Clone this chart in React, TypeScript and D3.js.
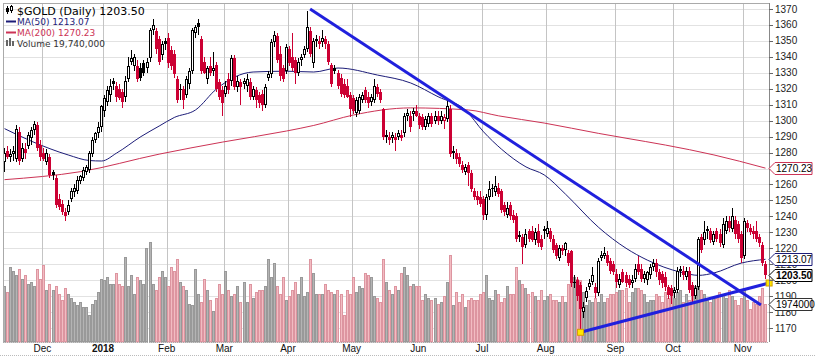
import React from "react";
import * as d3 from "d3";

// ---------- DATA ----------
const opens = [1274,1281,1277,1279,1276,1293,1276,1282,1284,1289,1294,1297,1285,1280,1274,1277,1268,1264,1251,1248,1243,1243,1251,1255,1256,1262,1264,1268,1269,1279,1288,1292,1296,1306,1312,1316,1325,1322,1320,1318,1315,1326,1337,1334,1334,1333,1336,1333,1339,1357,1356,1351,1341,1350,1352,1344,1342,1326,1320,1320,1316,1323,1331,1355,1361,1351,1337,1326,1334,1331,1335,1324,1319,1317,1326,1325,1339,1321,1324,1323,1322,1324,1315,1319,1316,1317,1310,1327,1329,1349,1353,1342,1333,1331,1345,1340,1338,1330,1338,1341,1345,1356,1336,1351,1350,1349,1351,1348,1335,1333,1330,1327,1323,1322,1316,1314,1305,1306,1313,1319,1315,1312,1313,1321,1318,1307,1291,1290,1289,1290,1290,1291,1292,1303,1303,1304,1306,1303,1302,1296,1298,1303,1300,1303,1300,1300,1301,1307,1281,1280,1277,1272,1268,1272,1267,1256,1253,1252,1251,1241,1252,1258,1255,1258,1256,1247,1241,1247,1241,1240,1228,1227,1222,1231,1231,1225,1231,1226,1232,1229,1231,1226,1222,1214,1220,1219,1217,1218,1199,1200,1197,1180,1189,1196,1199,1196,1192,1214,1215,1216,1212,1210,1204,1197,1205,1203,1201,1198,1201,1210,1207,1201,1200,1203,1208,1211,1205,1204,1202,1196,1195,1192,1194,1207,1206,1202,1206,1197,1190,1196,1227,1225,1232,1231,1224,1231,1229,1222,1231,1237,1232,1238,1235,1229,1215,1236,1233,1231,1231,1227,1222,1210];
const highs = [1283,1284,1282,1284,1297,1296,1286,1286,1293,1296,1300,1299,1288,1283,1282,1279,1269,1266,1254,1250,1245,1250,1258,1260,1265,1266,1271,1272,1281,1290,1293,1299,1310,1316,1322,1326,1327,1324,1323,1320,1328,1340,1344,1342,1338,1336,1338,1339,1358,1364,1358,1353,1350,1352,1355,1347,1344,1328,1323,1322,1328,1333,1358,1360,1364,1353,1340,1334,1340,1343,1337,1326,1322,1325,1330,1341,1341,1328,1326,1327,1329,1327,1322,1321,1318,1319,1323,1331,1351,1356,1355,1347,1335,1348,1347,1355,1340,1339,1342,1347,1369,1359,1352,1354,1353,1357,1353,1350,1336,1335,1332,1329,1326,1326,1318,1316,1315,1317,1318,1321,1318,1317,1326,1323,1320,1308,1294,1293,1293,1292,1294,1294,1305,1307,1306,1308,1310,1305,1304,1303,1305,1305,1306,1306,1306,1304,1313,1310,1284,1282,1280,1275,1273,1274,1269,1258,1256,1256,1253,1254,1262,1260,1265,1261,1257,1249,1249,1249,1244,1242,1231,1229,1232,1232,1234,1233,1235,1228,1234,1237,1233,1228,1223,1222,1222,1224,1219,1219,1203,1202,1199,1186,1196,1201,1208,1198,1214,1218,1221,1218,1214,1212,1207,1204,1207,1205,1203,1203,1210,1215,1210,1206,1206,1210,1213,1213,1207,1206,1205,1197,1197,1196,1208,1209,1209,1208,1208,1199,1197,1227,1229,1237,1234,1233,1231,1233,1232,1239,1240,1240,1245,1240,1237,1231,1239,1238,1235,1234,1237,1229,1224,1212];
const lows = [1268,1276,1274,1275,1274,1272,1274,1276,1282,1285,1291,1281,1275,1275,1272,1264,1263,1245,1244,1241,1237,1241,1249,1252,1254,1260,1262,1266,1267,1277,1286,1289,1293,1302,1309,1312,1319,1312,1313,1308,1312,1324,1335,1331,1324,1325,1328,1330,1337,1354,1342,1335,1338,1344,1333,1332,1327,1311,1313,1307,1314,1320,1329,1352,1354,1329,1329,1323,1328,1328,1318,1313,1303,1315,1317,1322,1319,1318,1310,1320,1318,1313,1313,1308,1308,1306,1308,1325,1327,1346,1336,1325,1324,1329,1334,1331,1323,1328,1334,1339,1343,1340,1333,1346,1345,1346,1345,1335,1321,1329,1320,1315,1314,1314,1302,1304,1302,1304,1311,1311,1308,1309,1311,1315,1311,1288,1286,1285,1286,1281,1288,1287,1290,1300,1293,1300,1302,1295,1294,1294,1296,1296,1298,1297,1298,1295,1299,1277,1276,1273,1271,1267,1266,1259,1255,1250,1247,1246,1238,1238,1250,1252,1253,1252,1242,1240,1239,1238,1236,1224,1224,1210,1220,1224,1224,1222,1221,1219,1226,1227,1224,1217,1213,1212,1216,1215,1209,1196,1195,1187,1167,1176,1186,1194,1197,1189,1190,1212,1213,1209,1204,1203,1195,1195,1198,1196,1195,1195,1199,1203,1199,1198,1197,1201,1206,1202,1197,1195,1193,1188,1185,1189,1192,1202,1200,1200,1192,1186,1188,1194,1217,1222,1226,1223,1222,1224,1221,1220,1229,1230,1230,1226,1223,1211,1213,1230,1228,1226,1224,1221,1209,1201];
const closes = [1280,1277,1279,1281,1295,1275,1283,1280,1291,1294,1298,1283,1277,1276,1280,1266,1266,1247,1246,1243,1240,1247,1256,1258,1263,1265,1269,1271,1280,1288,1292,1296,1309,1314,1319,1322,1323,1315,1314,1312,1325,1334,1339,1340,1326,1327,1330,1337,1357,1360,1345,1337,1348,1348,1336,1334,1329,1313,1319,1313,1326,1331,1357,1359,1359,1331,1330,1333,1330,1333,1320,1315,1311,1322,1319,1339,1321,1325,1321,1325,1326,1315,1320,1313,1311,1310,1321,1329,1349,1354,1338,1328,1326,1346,1336,1333,1330,1337,1340,1345,1359,1342,1350,1350,1348,1352,1348,1337,1323,1331,1322,1317,1316,1315,1307,1306,1313,1315,1316,1313,1311,1315,1322,1317,1313,1290,1290,1288,1291,1288,1292,1289,1303,1305,1296,1306,1303,1297,1296,1301,1303,1298,1303,1300,1303,1302,1309,1279,1280,1276,1273,1269,1271,1267,1257,1252,1250,1248,1241,1252,1257,1257,1259,1254,1244,1243,1245,1240,1238,1226,1227,1221,1229,1226,1225,1230,1223,1221,1231,1233,1226,1219,1215,1220,1218,1223,1211,1198,1198,1190,1182,1183,1193,1198,1203,1192,1212,1216,1217,1211,1206,1205,1199,1201,1199,1198,1197,1200,1207,1205,1201,1204,1205,1208,1211,1205,1200,1198,1196,1191,1190,1194,1206,1206,1203,1206,1194,1190,1195,1226,1219,1230,1231,1225,1229,1226,1223,1235,1237,1233,1240,1229,1226,1214,1237,1233,1230,1229,1226,1223,1211,1203.5];
// volume in millions
const volumes = [29,26,39,37,35,38,33,35,30,31,29,38,33,40,27,30,27,29,25,22,28,25,23,21,19,21,18,18,14,20,22,26,33,32,34,30,30,36,30,29,44,29,35,25,34,32,30,49,52,30,27,34,37,34,29,39,37,43,31,29,27,20,19,38,25,21,33,27,22,16,23,30,25,37,27,24,25,29,21,31,21,30,23,26,27,27,29,43,34,41,29,25,34,22,24,27,31,25,34,24,26,43,36,25,25,25,30,27,26,25,27,25,14,27,25,34,26,29,28,36,35,34,24,23,21,43,31,27,25,29,27,36,39,35,29,30,29,29,22,25,23,22,23,20,21,24,31,45,19,26,21,25,18,22,23,22,22,25,26,35,23,22,27,25,21,23,29,25,25,39,32,30,28,25,26,24,22,27,22,24,25,22,22,21,24,21,30,34,34,33,32,26,19,22,21,23,21,25,21,23,25,25,26,27,27,28,21,26,28,28,27,25,21,22,22,25,24,21,26,23,25,23,26,27,21,25,22,24,29,35,27,25,22,21,23,23,26,25,23,27,24,22,19,23,28,22,17,21,20,24,28,19.74];

const monthLabels = ["", "Dec", "2018", "Feb", "Mar", "Apr", "May", "Jun", "Jul", "Aug", "Sep", "Oct", "Nov"];
const monthBarCounts = [13, 20, 21, 19, 21, 21, 22, 21, 21, 23, 19, 23, 8];
const priceTicks = [1170,1180,1190,1200,1210,1220,1230,1240,1250,1260,1270,1280,1290,1300,1310,1320,1330,1340,1350,1360,1370];

// moving averages (bar index, value)
const ma50Idx = [0, 9, 21, 28, 32, 37, 45, 51, 56, 63, 70, 82, 93, 102, 110, 123, 134, 143, 152, 158, 164, 172, 178, 185, 196, 205, 212, 223, 229, 234, 243, 251];
const ma50Val = [1295, 1287, 1278.5, 1275, 1274.7, 1279.7, 1290, 1296.6, 1302, 1306.7, 1320, 1330.5, 1331, 1330.5, 1333, 1328.6, 1323.6, 1315, 1306.7, 1293, 1282, 1271, 1266, 1254, 1233, 1220, 1212.6, 1205, 1203, 1204.5, 1210.7, 1213.07];
const ma200Idx = [0, 25, 51, 72, 93, 102, 115, 134, 153, 163, 178, 196, 205, 218, 234, 251];
const ma200Val = [1263, 1268, 1279, 1286.6, 1293.5, 1297, 1303.5, 1308, 1306.7, 1303, 1298.5, 1292, 1289, 1284.7, 1278.5, 1270.23];

// trendlines (bar index, price)
const trend1 = [[100.8, 1370], [249.5, 1184.4]];
const trend2 = [[190, 1167.3], [252.2, 1198.2]];

const lastClose = 1203.5;
const lastMA50 = 1213.07;
const lastMA200 = 1270.23;
const lastVolume = 19740000;

// ---------- CHART ----------
export default function App() {
  const W = 815, H = 357;
  const left = 3, right = 769, top = 3, bottom = 342;
  const n = closes.length;
  const x = d3.scaleBand<number>().domain(d3.range(n)).range([left, 767]).padding(0);
  const step = x.step();
  const cx = (i: number) => left + (i + 0.5) * step;
  const y = d3.scaleLinear().domain([1170, 1370]).range([328, 9]);
  const vy = d3.scaleLinear().domain([0, 52]).range([bottom, bottom - 100]);

  const red = "#cc0033";
  const lineFont = "DejaVu Sans, Verdana, sans-serif";
  const axisFont = "Liberation Sans, Arial, sans-serif";

  const monthStarts: number[] = [];
  let acc = 0;
  monthBarCounts.forEach((c) => { monthStarts.push(acc); acc += c; });

  const maLine = d3.line<[number, number]>().x((d) => cx(d[0])).y((d) => y(d[1])).curve(d3.curveMonotoneX);
  const ma50Path = maLine(ma50Idx.map((v, k) => [v, ma50Val[k]] as [number, number])) || "";
  const ma200Path = maLine(ma200Idx.map((v, k) => [v, ma200Val[k]] as [number, number])) || "";

  const tag = (yy: number, text: string, stroke: string, color: string, bold = false, key = "") => (
    <g key={key}>
      <polygon points={`${769},${yy} ${775},${yy - 6} ${812},${yy - 6} ${812},${yy + 6} ${775},${yy + 6}`} fill="#fff" stroke={stroke} strokeWidth={1} />
      <text x={776} y={yy + 3.5} fontSize={10} fontFamily={axisFont} fontWeight={bold ? "bold" : "normal"} fill={color}>{text}</text>
    </g>
  );

  return (
    <svg width={W} height={H} style={{ position: "absolute", left: 0, top: 0, background: "#fff" }}>
      <rect x={0} y={0} width={W} height={H} fill="#fff" />
      {priceTicks.map((p) => (
        <line key={"hg" + p} x1={left} x2={right} y1={Math.round(y(p)) + 0.5} y2={Math.round(y(p)) + 0.5} stroke="#e2e2e2" strokeWidth={1} />
      ))}
      {monthStarts.slice(1).map((m, k) => (
        <line key={"vg" + k} x1={Math.round(x(m)!) + 0.5} x2={Math.round(x(m)!) + 0.5} y1={top} y2={bottom} stroke="#c4c4c4" strokeWidth={1} />
      ))}
      {volumes.map((v, i) => {
        const down = i > 0 && closes[i] < closes[i - 1];
        const px = Math.round(x(i)!);
        const yt = Math.round(vy(v));
        return (
          <rect key={"v" + i} x={px + 0.5} y={yt + 0.5} width={2} height={bottom - yt - 0.5}
            fill={down ? "#f2bcc2" : "#b4b4b4"} stroke={down ? "#dd95a0" : "#999"} strokeWidth={1} />
        );
      })}
      <path d={ma200Path} fill="none" stroke="#cc3355" strokeWidth={1} />
      <path d={ma50Path} fill="none" stroke="#1c1c78" strokeWidth={1} />
      {closes.map((c, i) => {
        const o = opens[i];
        const col = i === 0 || c >= closes[i - 1] ? "#000" : red;
        const px = Math.round(cx(i) - 0.5);
        const yTop = Math.round(y(Math.max(o, c)));
        const yBot = Math.round(y(Math.min(o, c)));
        const hollow = c > o;
        return (
          <g key={"c" + i}>
            <line x1={px + 0.5} x2={px + 0.5} y1={Math.round(y(highs[i]))} y2={Math.round(y(lows[i]))} stroke={col} strokeWidth={1} />
            {hollow ? (
              <rect x={px - 0.5} y={yTop + 0.5} width={2} height={Math.max(1, yBot - yTop - 1)} fill="#fff" stroke={col} strokeWidth={1} />
            ) : (
              <rect x={px - 1} y={yTop} width={3} height={Math.max(1, yBot - yTop)} fill={col} />
            )}
          </g>
        );
      })}
      {[trend1, trend2].map((t, k) => (
        <line key={"t" + k} x1={cx(t[0][0])} y1={y(t[0][1])} x2={cx(t[1][0])} y2={y(t[1][1])} stroke="#2020dd" strokeWidth={3} />
      ))}
      {[trend2[0], trend2[1]].map((p, k) => (
        <rect key={"m" + k} x={cx(p[0]) - 3} y={y(p[1]) - 3} width={6} height={6} fill="#ffe600" stroke="#d4a000" strokeWidth={1} />
      ))}
      <line x1={left + 0.5} x2={left + 0.5} y1={top} y2={bottom} stroke="#aaa" />
      <line x1={left} x2={right} y1={top + 0.5} y2={top + 0.5} stroke="#aaa" />
      <line x1={right + 0.5} x2={right + 0.5} y1={top} y2={bottom} stroke="#888" />
      <line x1={left} x2={right} y1={bottom + 0.5} y2={bottom + 0.5} stroke="#aaa" strokeDasharray="1,1" />
      <line x1={0} x2={W} y1={355.5} y2={355.5} stroke="#bbb" strokeDasharray="1,1" />
      {priceTicks.map((p) => (
        <g key={"yt" + p}>
          <line x1={right} x2={right + 4} y1={Math.round(y(p)) + 0.5} y2={Math.round(y(p)) + 0.5} stroke="#666" />
          <text x={775} y={y(p) + 3.5} fontSize={10} fontFamily={axisFont} fill="#222">{p}</text>
        </g>
      ))}
      {tag(Math.round(y(lastMA200)) + 0.5, lastMA200.toFixed(2), "#cc3355", "#000", false, "t200")}
      {tag(Math.round(y(lastMA50)) + 0.5, lastMA50.toFixed(2), "#1c1c78", "#000", false, "t50")}
      {tag(Math.round(vy(lastVolume / 1e6)) + 0.5, String(lastVolume / 10), "#333", "#000", false, "tv")}
      {tag(Math.round(y(lastClose)) + 0.5, lastClose.toFixed(2), "#000", "#000", true, "tc")}
      {monthStarts.map((m, k) => monthLabels[k] ? (
        <text key={"ml" + k} x={x(m)!} y={352} textAnchor="middle" fontSize={10} fontFamily={axisFont}
          fontWeight={monthLabels[k] === "2018" ? "bold" : "normal"} fill="#111">{monthLabels[k]}</text>
      ) : null)}
      <g>
        <line x1={7.5} x2={7.5} y1={6} y2={14} stroke="#000" />
        <rect x={6} y={8} width={3} height={4} fill="#000" />
        <line x1={11.5} x2={11.5} y1={5} y2={13} stroke="#000" />
        <rect x={10.5} y={6.5} width={2} height={4} fill="#fff" stroke="#000" />
        <text x={17} y={15} fontSize={11} fontFamily={lineFont} fill="#000">$GOLD (Daily) 1203.50</text>
        <line x1={6} x2={16} y1={21.5} y2={21.5} stroke="#1c1c78" strokeWidth={2} />
        <text x={17} y={25} fontSize={9} fontFamily={lineFont} fill="#1c1c78">MA(50) 1213.07</text>
        <line x1={6} x2={16} y1={32.5} y2={32.5} stroke="#cc3355" strokeWidth={2} />
        <text x={17} y={36} fontSize={9} fontFamily={lineFont} fill="#cc3355">MA(200) 1270.23</text>
        <rect x={6} y={40} width={2} height={6} fill="#666" />
        <rect x={9} y={38} width={2} height={8} fill="#666" />
        <rect x={12} y={41} width={2} height={5} fill="#666" />
        <text x={17} y={46.5} fontSize={9} fontFamily={lineFont} fill="#333">Volume 19,740,000</text>
      </g>
    </svg>
  );
}
